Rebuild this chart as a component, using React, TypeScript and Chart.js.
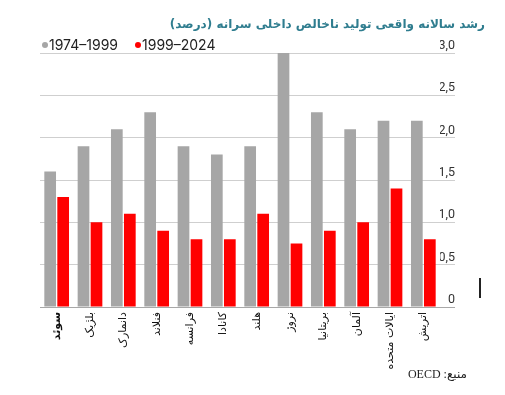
import React, { useEffect, useRef } from 'react';
import { Chart, registerables } from 'chart.js';

Chart.register(...registerables);

const titleText = 'رشد سالانه واقعی تولید ناخالص داخلی سرانه (درصد)';
const sourceText = 'منبع: OECD';
const countries = ['سوئد', 'بلژیک', 'دانمارک', 'فنلاند', 'فرانسه', 'کانادا', 'هلند', 'نروژ', 'بریتانیا', 'آلمان', 'ایالات متحده', 'اتریش'];
const seriesNames = ['1974–1999', '1999–2024'];
const growth1974to1999 = [1.6, 1.9, 2.1, 2.3, 1.9, 1.8, 1.9, 3.0, 2.3, 2.1, 2.2, 2.2];
const growth1999to2024 = [1.3, 1.0, 1.1, 0.9, 0.8, 0.8, 1.1, 0.75, 0.9, 1.0, 1.4, 0.8];
const yTickLabels = ['0', '0,5', '1,0', '1,5', '2,0', '2,5', '3,0'];
const seriesColors = ['#a6a6a6', '#ff0000'];

export default function App() {
  const canvasRef = useRef<HTMLCanvasElement | null>(null);

  useEffect(() => {
    if (!canvasRef.current) return;
    const chart = new Chart(canvasRef.current, {
      type: 'bar',
      data: {
        labels: countries,
        datasets: [
          { label: seriesNames[0], data: growth1974to1999, backgroundColor: seriesColors[0], categoryPercentage: 0.78, barPercentage: 0.9 },
          { label: seriesNames[1], data: growth1999to2024, backgroundColor: seriesColors[1], categoryPercentage: 0.78, barPercentage: 0.9 },
        ],
      },
      options: {
        responsive: false,
        animation: false,
        layout: { padding: { left: 40, right: 50, top: 53, bottom: 0 } },
        plugins: {
          legend: { display: false },
          title: { display: false },
          tooltip: { enabled: false },
        },
        scales: {
          x: {
            grid: { display: false, drawTicks: false },
            border: { display: false },
            ticks: {
              minRotation: 90,
              maxRotation: 90,
              autoSkip: false,
              padding: 5,
              color: '#111',
              font: (ctx: any) => ({ family: 'DejaVu Sans', size: 11, weight: ctx.index === 0 ? 'bold' : 'normal' }),
            },
            afterFit: (scale: any) => { scale.height = 88; },
          },
          y: {
            position: 'right',
            min: 0,
            max: 3,
            border: { display: false },
            grid: {
              color: (ctx: any) => (ctx.index === 0 ? '#a8a8a8' : '#cfcfcf'),
              tickColor: (ctx: any) => (ctx.index === 0 ? '#a8a8a8' : '#cfcfcf'),
              drawTicks: true,
              tickLength: 15,
              lineWidth: 1,
            },
            ticks: {
              stepSize: 0.5,
              crossAlign: 'far',
              labelOffset: -7,
              padding: 0,
              color: '#333',
              font: { family: 'Roboto', size: 12.5 },
              callback: (_v: any, i: number) => yTickLabels[i],
            },
            afterFit: (scale: any) => { scale.width = 15; },
          },
        },
      },
    });
    return () => chart.destroy();
  }, []);

  return (
    <div style={{ position: 'absolute', left: 0, top: 0, width: 505, height: 395, background: '#fff' }}>
      <canvas ref={canvasRef} width={505} height={395} style={{ position: 'absolute', left: 0, top: 0, width: 505, height: 395 }} />
      <div dir="rtl" style={{ position: 'absolute', right: 20, top: 17, fontFamily: 'DejaVu Sans', fontWeight: 'bold', fontSize: 12, color: '#2f7d8f', whiteSpace: 'nowrap' }}>
        {titleText}
      </div>
      <div style={{ position: 'absolute', left: 42, top: 36, fontFamily: 'Inter', fontSize: 14, color: '#222', whiteSpace: 'nowrap', display: 'flex', alignItems: 'center' }}>
        <span style={{ display: 'inline-block', width: 6, height: 6, borderRadius: 3, background: seriesColors[0], marginRight: 1 }} />
        <span>{seriesNames[0]}</span>
        <span style={{ display: 'inline-block', width: 6, height: 6, borderRadius: 3, background: seriesColors[1], marginLeft: 17, marginRight: 1 }} />
        <span>{seriesNames[1]}</span>
      </div>
      <div dir="rtl" style={{ position: 'absolute', right: 38, top: 367, fontFamily: 'Liberation Serif, DejaVu Sans', fontSize: 12, color: '#222', whiteSpace: 'nowrap' }}>
        {sourceText}
      </div>
      <div style={{ position: 'absolute', left: 479, top: 278, width: 2, height: 20, background: '#222' }} />
    </div>
  );
}
